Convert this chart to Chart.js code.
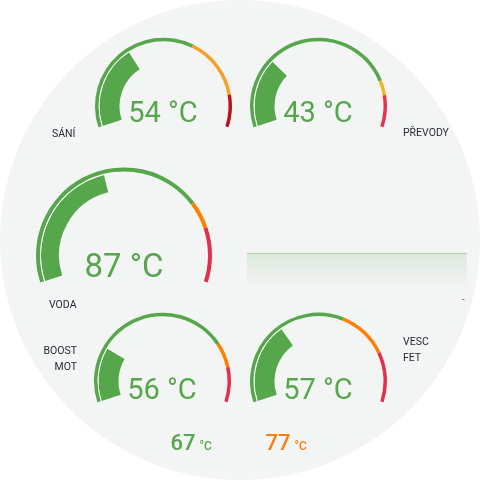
<!DOCTYPE html>
<html><head><meta charset="utf-8">
<script src="https://cdn.jsdelivr.net/npm/chart.js@4/dist/chart.umd.min.js"></script>
<style>
html,body{margin:0;padding:0;background:#fff;width:480px;height:480px;overflow:hidden;font-family:Roboto,"Noto Sans",sans-serif}
#bg{position:absolute;left:0;top:0;width:480px;height:480px;border-radius:50%;background:#f3f4f4}
canvas{position:absolute;pointer-events:none}
.t{position:absolute;white-space:nowrap;line-height:1}
.lbl{font-size:10.5px;color:#262c36;font-weight:400}
.val{text-align:center;width:200px;color:#56a64c;font-weight:400}
</style></head><body>
<div id="bg"></div>
<script>
// ---- data ----
const gaugeNames  = ['SÁNÍ', 'PŘEVODY', 'VODA', 'BOOST MOT', 'VESC FET'];
const gaugeValues = [54, 43, 87, 56, 57];
const gaugeMin    = [0, 0, 0, 0, 0];
const gaugeMax    = [155, 150, 200, 250, 170];
const warnFrom    = [96, 122, 149, 190, 102];
const critFrom    = [135, 131, 166, 215, 136];
const unit = '°C';
const peakValues  = [67, 77];
const historyLabels = ['12:00','12:05','12:10','12:15','12:20','12:25','12:30','12:35','12:40','12:45','12:50','12:55'];
const historyValues = [87, 87, 87, 87, 87, 87, 87, 87, 87, 87, 87, 87];

// ---- layout / style ----
const GREEN = '#56a64c';
const layout = [
  {cx:163, cy:106, R:68.5, cut:44, ring:3.5, band:20, fs:29, warn:'#f5a02a', crit:'#b8141c', capTop:101.7},
  {cx:318, cy:106, R:68.5, cut:44, ring:3.5, band:20, fs:29, warn:'#e8b830', crit:'#e53448', capTop:101.7},
  {cx:124, cy:255, R:88,   cut:65, ring:4,   band:18, fs:33, warn:'#ff8000', crit:'#e0304c', capTop:253.3},
  {cx:162, cy:381, R:68.5, cut:44, ring:3.5, band:20, fs:29, warn:'#ff8000', crit:'#e0304c', capTop:378.3},
  {cx:318, cy:381, R:68.5, cut:44, ring:3.5, band:20, fs:29, warn:'#ff8000', crit:'#e0304c', capTop:378.3}
];

function addText(html, cls, left, top, style) {
  const d = document.createElement('div');
  d.className = 't ' + cls;
  d.style.left = left + 'px';
  d.style.top = top + 'px';
  if (style) d.style.cssText += style;
  d.innerHTML = html;
  document.body.appendChild(d);
  return d;
}

layout.forEach((L, i) => {
  const c = document.createElement('canvas');
  const size = Math.round(L.R * 2);
  c.width = size; c.height = size;
  c.style.width = size + 'px'; c.style.height = size + 'px';
  const R = size / 2;
  c.style.left = Math.round(L.cx - R) + 'px';
  c.style.top = Math.round(L.cy - R * 1.34549) + 'px';
  document.body.appendChild(c);
  const mn = gaugeMin[i], mx = gaugeMax[i], v = gaugeValues[i];
  new Chart(c, {
    type: 'doughnut',
    data: {
      datasets: [
        {data:[warnFrom[i]-mn, critFrom[i]-warnFrom[i], mx-critFrom[i]], backgroundColor:[GREEN, L.warn, L.crit], borderWidth:0, weight:L.ring},
        {data:[v-mn, mx-v], backgroundColor:['#ffffff','rgba(0,0,0,0)'], borderWidth:0, weight:1},
        {data:[v-mn, mx-v], backgroundColor:[GREEN,'rgba(0,0,0,0)'], borderWidth:0, weight:L.band}
      ]
    },
    options: {
      responsive:false, animation:false, events:[],
      rotation:-108, circumference:216,
      cutout: L.cut * R / L.R,
      plugins:{legend:{display:false}, tooltip:{enabled:false}}
    }
  });
  addText(v + ' ' + unit, 'val', L.cx - 100, L.capTop - 0.131 * L.fs, 'font-size:' + L.fs + 'px');
});

// labels
const fsL = 10.5, base = 0.842 * fsL;
addText(gaugeNames[0], 'lbl', 52, 137.5 - base);
addText(gaugeNames[1], 'lbl', 403, 137.3 - base);
addText(gaugeNames[2], 'lbl', 49, 309.3 - base);
const bm = gaugeNames[3].split(' ');
addText(bm[0] + '<br>' + bm[1], 'lbl', 0, 355.7 - 12.5, 'width:77px;text-align:right;line-height:16px');
const vf = gaugeNames[4].split(' ');
addText(vf[0] + '<br>' + vf[1], 'lbl', 403, 346.7 - 12.5, 'line-height:16px');
addText('-', 'lbl', 462, 295, 'font-size:9px;color:#555');

// peak values
addText(peakValues[0] + '<span style="font-size:12px;margin-left:4px">' + unit + '</span>', '', 170.5, 450.7 - 0.842*22, 'font-size:22px;font-weight:500;color:#56a64c');
addText(peakValues[1] + '<span style="font-size:12px;margin-left:4px">' + unit + '</span>', '', 265.5, 450.7 - 0.842*22, 'font-size:22px;font-weight:500;color:#fb7d12');

// history line
const lc = document.createElement('canvas');
lc.width = 220; lc.height = 36;
lc.style.width = '220px'; lc.style.height = '36px';
lc.style.left = '247px'; lc.style.top = '251px';
document.body.appendChild(lc);
new Chart(lc, {
  type:'line',
  data:{labels:historyLabels, datasets:[{
    data:historyValues, borderColor:'rgba(86,166,76,0.5)', borderWidth:1.5, pointRadius:0, tension:0,
    fill:'start',
    backgroundColor:(ctx) => {
      const ch = ctx.chart, a = ch.chartArea;
      if (!a) return 'rgba(0,0,0,0)';
      const g = ch.ctx.createLinearGradient(0, a.top, 0, a.bottom);
      g.addColorStop(0, 'rgba(86,166,76,0.14)');
      g.addColorStop(1, 'rgba(86,166,76,0)');
      return g;
    }
  }]},
  options:{
    responsive:false, animation:false, events:[],
    layout:{padding:{top:2,left:0,right:0,bottom:0}},
    scales:{x:{display:false}, y:{display:false, min:0, max:87}},
    plugins:{legend:{display:false}, tooltip:{enabled:false}}
  }
});
</script>
</body></html>
